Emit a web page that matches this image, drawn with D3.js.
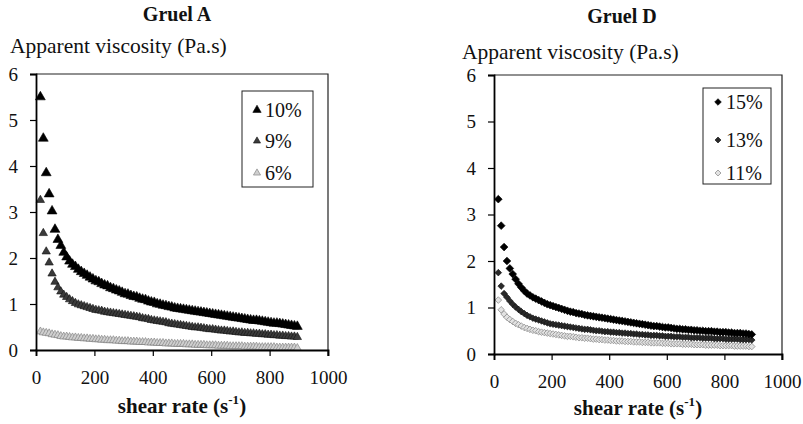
<!DOCTYPE html>
<html>
<head>
<meta charset="utf-8">
<script src="https://cdn.jsdelivr.net/npm/d3@7"></script>
<style>
    body { margin: 0; background: #fff; }
    svg text { font-family: 'Liberation Serif', 'Times New Roman', serif; fill: #111; }
</style>
</head>
<body>
<div id="chart"></div>
<script>

// shear rate (1/s), same steps for both gruels
var shearRate = [
    15, 25, 35, 45, 55, 65, 75, 85, 95, 105,
    115, 125, 135, 145, 155, 165, 175, 185, 195, 205,
    215, 225, 235, 245, 255, 265, 275, 285, 295, 305,
    315, 325, 335, 345, 355, 365, 375, 385, 395, 405,
    415, 425, 435, 445, 455, 465, 475, 485, 495, 505,
    515, 525, 535, 545, 555, 565, 575, 585, 595, 605,
    615, 625, 635, 645, 655, 665, 675, 685, 695, 705,
    715, 725, 735, 745, 755, 765, 775, 785, 795, 805,
    815, 825, 835, 845, 855, 865, 875, 885, 895
];

// Gruel A, apparent viscosity (Pa.s)
var gruelA10 = [
    5.50, 4.60, 3.85, 3.39, 3.02, 2.62, 2.40, 2.27, 2.12, 2.02,
    1.93, 1.86, 1.81, 1.75, 1.70, 1.66, 1.62, 1.58, 1.54, 1.50,
    1.48, 1.44, 1.41, 1.39, 1.35, 1.33, 1.30, 1.28, 1.25, 1.22,
    1.21, 1.18, 1.16, 1.15, 1.12, 1.10, 1.09, 1.06, 1.04, 1.03,
    1.00, 0.99, 0.97, 0.96, 0.94, 0.93, 0.91, 0.90, 0.89, 0.88,
    0.87, 0.86, 0.85, 0.84, 0.83, 0.82, 0.81, 0.80, 0.79, 0.78,
    0.77, 0.76, 0.75, 0.74, 0.73, 0.72, 0.71, 0.70, 0.69, 0.68,
    0.67, 0.66, 0.65, 0.64, 0.64, 0.63, 0.62, 0.61, 0.60, 0.59,
    0.58, 0.58, 0.57, 0.56, 0.55, 0.54, 0.53, 0.52, 0.51
];
var gruelA9 = [
    3.26, 2.54, 2.14, 1.90, 1.66, 1.48, 1.36, 1.27, 1.20, 1.15,
    1.10, 1.06, 1.02, 0.99, 0.97, 0.95, 0.93, 0.91, 0.89, 0.87,
    0.86, 0.85, 0.83, 0.82, 0.81, 0.80, 0.79, 0.78, 0.77, 0.76,
    0.75, 0.74, 0.73, 0.72, 0.71, 0.69, 0.68, 0.67, 0.65, 0.64,
    0.63, 0.62, 0.61, 0.60, 0.58, 0.57, 0.56, 0.55, 0.54, 0.53,
    0.52, 0.51, 0.50, 0.49, 0.49, 0.48, 0.47, 0.46, 0.45, 0.45,
    0.44, 0.43, 0.42, 0.42, 0.41, 0.40, 0.40, 0.39, 0.38, 0.38,
    0.37, 0.37, 0.36, 0.36, 0.35, 0.35, 0.34, 0.34, 0.33, 0.33,
    0.32, 0.32, 0.31, 0.31, 0.30, 0.30, 0.29, 0.29, 0.28
];
var gruelA6 = [
    0.40, 0.38, 0.37, 0.36, 0.34, 0.33, 0.32, 0.30, 0.29, 0.29,
    0.28, 0.27, 0.27, 0.26, 0.26, 0.25, 0.25, 0.24, 0.24, 0.23,
    0.23, 0.22, 0.22, 0.21, 0.21, 0.21, 0.20, 0.20, 0.19, 0.19,
    0.19, 0.18, 0.18, 0.18, 0.17, 0.17, 0.17, 0.16, 0.16, 0.16,
    0.15, 0.15, 0.15, 0.14, 0.14, 0.14, 0.13, 0.13, 0.13, 0.13,
    0.12, 0.12, 0.12, 0.11, 0.11, 0.11, 0.11, 0.10, 0.10, 0.10,
    0.10, 0.09, 0.09, 0.09, 0.09, 0.08, 0.08, 0.08, 0.08, 0.08,
    0.07, 0.07, 0.07, 0.07, 0.07, 0.06, 0.06, 0.06, 0.06, 0.06,
    0.06, 0.05, 0.05, 0.05, 0.05, 0.05, 0.05, 0.05, 0.04
];

// Gruel D, apparent viscosity (Pa.s)
var gruelD15 = [
    3.33, 2.76, 2.30, 2.00, 1.84, 1.72, 1.61, 1.51, 1.43, 1.36,
    1.30, 1.26, 1.22, 1.19, 1.16, 1.13, 1.10, 1.07, 1.05, 1.03,
    1.01, 0.99, 0.97, 0.95, 0.93, 0.91, 0.90, 0.88, 0.87, 0.86,
    0.84, 0.83, 0.82, 0.81, 0.80, 0.79, 0.78, 0.77, 0.76, 0.75,
    0.74, 0.73, 0.72, 0.71, 0.70, 0.69, 0.68, 0.67, 0.66, 0.65,
    0.64, 0.63, 0.62, 0.61, 0.60, 0.60, 0.59, 0.58, 0.57, 0.57,
    0.56, 0.55, 0.54, 0.54, 0.53, 0.53, 0.52, 0.52, 0.51, 0.51,
    0.50, 0.50, 0.49, 0.49, 0.49, 0.48, 0.48, 0.47, 0.47, 0.47,
    0.46, 0.46, 0.45, 0.45, 0.45, 0.44, 0.44, 0.43, 0.42
];
var gruelD13 = [
    1.75, 1.46, 1.30, 1.22, 1.14, 1.07, 1.01, 0.96, 0.91, 0.87,
    0.83, 0.80, 0.77, 0.75, 0.73, 0.71, 0.69, 0.67, 0.65, 0.64,
    0.63, 0.62, 0.61, 0.60, 0.59, 0.58, 0.57, 0.56, 0.55, 0.54,
    0.53, 0.53, 0.52, 0.51, 0.50, 0.50, 0.49, 0.48, 0.48, 0.47,
    0.47, 0.46, 0.46, 0.45, 0.45, 0.44, 0.44, 0.43, 0.43, 0.42,
    0.42, 0.41, 0.41, 0.40, 0.40, 0.40, 0.39, 0.39, 0.38, 0.38,
    0.38, 0.37, 0.37, 0.37, 0.36, 0.36, 0.36, 0.35, 0.35, 0.35,
    0.35, 0.34, 0.34, 0.34, 0.34, 0.33, 0.33, 0.33, 0.33, 0.32,
    0.32, 0.32, 0.32, 0.32, 0.31, 0.31, 0.31, 0.31, 0.30
];
var gruelD11 = [
    1.16, 0.95, 0.86, 0.79, 0.74, 0.70, 0.66, 0.63, 0.60, 0.57,
    0.55, 0.53, 0.51, 0.50, 0.48, 0.47, 0.46, 0.45, 0.44, 0.43,
    0.42, 0.41, 0.40, 0.39, 0.38, 0.38, 0.37, 0.36, 0.35, 0.35,
    0.34, 0.34, 0.33, 0.32, 0.32, 0.31, 0.31, 0.30, 0.30, 0.29,
    0.29, 0.28, 0.28, 0.28, 0.27, 0.27, 0.27, 0.26, 0.26, 0.26,
    0.25, 0.25, 0.25, 0.24, 0.24, 0.24, 0.24, 0.23, 0.23, 0.23,
    0.22, 0.22, 0.22, 0.22, 0.21, 0.21, 0.21, 0.21, 0.20, 0.20,
    0.20, 0.20, 0.19, 0.19, 0.19, 0.19, 0.19, 0.18, 0.18, 0.18,
    0.18, 0.18, 0.17, 0.17, 0.17, 0.17, 0.17, 0.16, 0.16
];

var yTickValues = [0, 1, 2, 3, 4, 5, 6];
var xTickValues = [0, 200, 400, 600, 800, 1000];

var svg = d3.select('#chart')
    .append('svg')
        .attr('width', 803)
        .attr('height', 424);

drawPanel({
    title: 'Gruel A',
    left: 36, right: 328, top: 74, bottom: 350,
    titleX: 177, titleY: 21,
    yTitleX: 10, yTitleY: 53,
    xTitleX: 182, xTitleY: 413,
    legend: { x: 242, y: 91, w: 71, h: 96, rows: [110, 141, 173] },
    series: [
        { name: '10%', values: gruelA10, shape: 'triangle', size: 42, legendSize: 30, fill: '#000', stroke: '#000' },
        { name: '9%', values: gruelA9, shape: 'triangle', size: 30, legendSize: 22, fill: '#3a3a3a', stroke: '#111' },
        { name: '6%', values: gruelA6, shape: 'triangle', size: 28, legendSize: 22, fill: '#cfcfcf', stroke: '#777' }
    ]
});

drawPanel({
    title: 'Gruel D',
    left: 494, right: 782, top: 75, bottom: 354,
    titleX: 622, titleY: 23,
    yTitleX: 462, yTitleY: 59,
    xTitleX: 638, xTitleY: 415,
    legend: { x: 703, y: 88, w: 68, h: 96, rows: [102, 140, 173] },
    series: [
        { name: '15%', values: gruelD15, shape: 'diamond', size: 30, legendSize: 22, fill: '#000', stroke: '#000' },
        { name: '13%', values: gruelD13, shape: 'diamond', size: 22, legendSize: 18, fill: '#2a2a2a', stroke: '#111' },
        { name: '11%', values: gruelD11, shape: 'diamond', size: 22, legendSize: 18, fill: '#e2e2e2', stroke: '#777' }
    ]
});

function symbolPath(s, size) {
    var type = s.shape === 'triangle' ? d3.symbolTriangle : d3.symbolSquare;
    return d3.symbol().type(type).size(size)();
}

function drawPanel(cfg) {

    var x = d3.scaleLinear()
        .domain([0, 1000])
        .range([cfg.left, cfg.right]);

    var y = d3.scaleLinear()
        .domain([0, 6])
        .range([cfg.bottom, cfg.top]);

    var g = svg.append('g');

    /** frame: top and right sides */
    g.append('path')
        .attr('d', 'M' + cfg.left + ',' + cfg.top + 'H' + cfg.right + 'V' + (cfg.bottom + 6))
        .attr('fill', 'none')
        .attr('stroke', '#222')
        .attr('stroke-width', 1.2);

    /** points, drawn last series first so the heavy one sits on top */
    cfg.series.slice().reverse().forEach(function(s) {
        var path = symbolPath(s, s.size);
        g.append('g').selectAll('path')
            .data(s.values)
            .enter().append('path')
                .attr('d', path)
                .attr('transform', function(d, i) {
                    var t = 'translate(' + x(shearRate[i]) + ',' + y(d) + ')';
                    return s.shape === 'diamond' ? t + ' rotate(45)' : t;
                })
                .attr('fill', s.fill)
                .attr('stroke', s.stroke)
                .attr('stroke-width', 0.6);
    });

    /** axes */
    var yAxis = d3.axisLeft(y)
        .tickValues(yTickValues)
        .tickFormat(d3.format('d'))
        .tickSize(6)
        .tickPadding(12);

    var xAxis = d3.axisBottom(x)
        .tickValues(xTickValues)
        .tickFormat(d3.format('d'))
        .tickSize(6)
        .tickPadding(15);

    var ya = g.append('g')
        .attr('transform', 'translate(' + cfg.left + ',0)')
        .call(yAxis);

    var xa = g.append('g')
        .attr('transform', 'translate(0,' + cfg.bottom + ')')
        .call(xAxis);

    [ya, xa].forEach(function(a) {
        a.select('.domain').attr('stroke', '#000').attr('stroke-width', 1.8);
        a.selectAll('.tick line').attr('stroke', '#000').attr('stroke-width', 1.2);
        a.selectAll('.tick text')
            .style('font-family', "'Liberation Serif', serif")
            .style('font-size', '19px')
            .attr('fill', '#111');
    });

    /** titles */
    g.append('text')
        .attr('x', cfg.titleX)
        .attr('y', cfg.titleY)
        .attr('text-anchor', 'middle')
        .style('font-size', '20px')
        .style('font-weight', 'bold')
        .text(cfg.title);

    g.append('text')
        .attr('x', cfg.yTitleX)
        .attr('y', cfg.yTitleY)
        .style('font-size', '21.5px')
        .text('Apparent viscosity (Pa.s)');

    var xt = g.append('text')
        .attr('x', cfg.xTitleX)
        .attr('y', cfg.xTitleY)
        .attr('text-anchor', 'middle')
        .style('font-size', '21px')
        .style('font-weight', 'bold');
    xt.append('tspan').text('shear rate (s');
    xt.append('tspan').attr('dy', -9).style('font-size', '13px').text('-1');
    xt.append('tspan').attr('dy', 9).text(')');

    /** legend */
    var lg = cfg.legend;
    g.append('rect')
        .attr('x', lg.x)
        .attr('y', lg.y)
        .attr('width', lg.w)
        .attr('height', lg.h)
        .attr('fill', '#fff')
        .attr('stroke', '#222')
        .attr('stroke-width', 1);

    cfg.series.forEach(function(s, i) {
        var cy = lg.rows[i];
        var t = 'translate(' + (lg.x + 15) + ',' + cy + ')';
        g.append('path')
            .attr('d', symbolPath(s, s.legendSize))
            .attr('transform', s.shape === 'diamond' ? t + ' rotate(45)' : t)
            .attr('fill', s.fill)
            .attr('stroke', s.stroke)
            .attr('stroke-width', 0.6);
        g.append('text')
            .attr('x', lg.x + 23)
            .attr('y', cy + 7)
            .style('font-size', '20px')
            .text(s.name);
    });
}

</script>
</body>
</html>
